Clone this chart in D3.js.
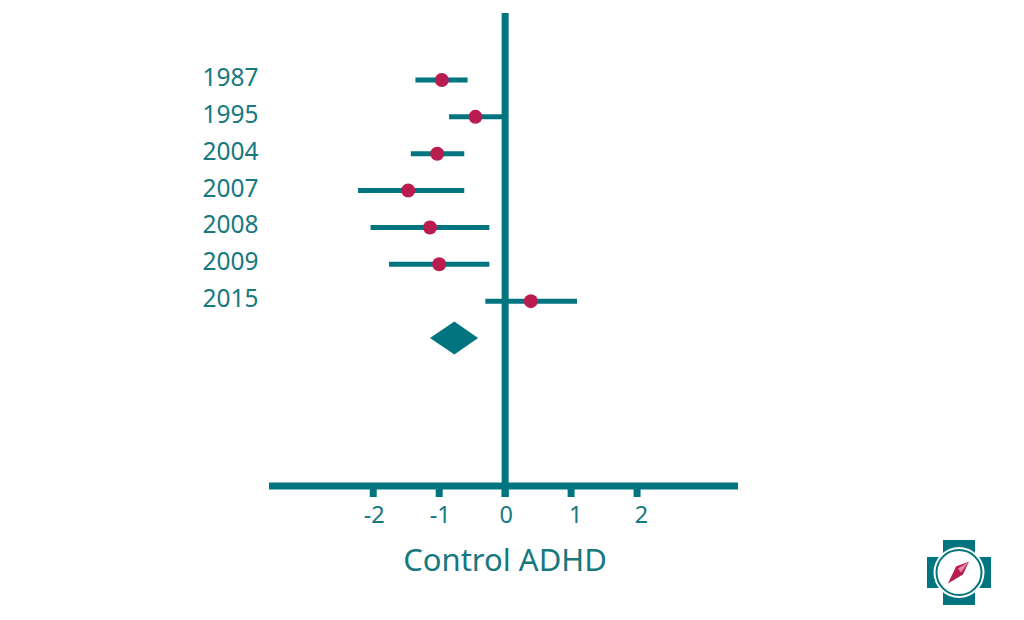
<!DOCTYPE html>
<html>
<head>
<meta charset="utf-8">
<script src="https://cdn.jsdelivr.net/npm/d3@7"></script>
<style>
  html, body { margin: 0; padding: 0; background: #fff; }
  text { font-family: "Noto Sans", "Open Sans", sans-serif; fill: #17797f; }
</style>
</head>
<body>
<div id="chart"></div>
<script>
const years = ['1987', '1995', '2004', '2007', '2008', '2009', '2015'];
const lower = [-1.36, -0.85, -1.43, -2.23, -2.04, -1.76, -0.30];
const upper = [-0.57, 0, -0.62, -0.62, -0.24, -0.24, 1.09];
const effect = [-0.96, -0.45, -1.03, -1.47, -1.14, -1.00, 0.39];
const pooledRow = 'pooled';
const pooled = [-1.14, -0.77, -0.41];
const xTicks = [-2, -1, 0, 1, 2];
const xLabel = 'Control ADHD';

const teal = '#007580';
const red = '#b91c4e';

const width = 1024;
const height = 620;

const svg = d3.select('#chart')
  .append('svg')
  .attr('width', width)
  .attr('height', height);

const x = d3.scaleLinear().domain([-3.58, 3.53]).range([269, 738]);
const y = d3.scalePoint().domain([...years, pooledRow]).range([80, 338]);
const axisY = 486;

// x axis
const xAxis = svg.append('g')
  .attr('transform', `translate(0, ${axisY})`)
  .call(d3.axisBottom(x).tickValues(xTicks).tickFormat(d => String(d)).tickSize(11).tickSizeOuter(0).tickPadding(9).offset(0));

xAxis.select('.domain').attr('stroke', teal).attr('stroke-width', 7);
xAxis.selectAll('.tick line').attr('stroke', teal).attr('stroke-width', 7);
xAxis.selectAll('.tick text')
  .attr('font-size', 23.5)
  .attr('font-family', null)
  .attr('dx', d => d > 0 ? 4.5 : 1)
  .style('fill', '#17797f');

// zero line
svg.append('line')
  .attr('x1', x(0)).attr('x2', x(0))
  .attr('y1', 13).attr('y2', axisY + 11)
  .attr('stroke', teal)
  .attr('stroke-width', 7);

// study rows
const rows = years.map((year, i) => ({ year, lo: lower[i], hi: upper[i], es: effect[i] }));

svg.selectAll('.ci')
  .data(rows)
  .enter()
  .append('line')
  .attr('class', 'ci')
  .attr('x1', d => x(d.lo))
  .attr('x2', d => x(d.hi))
  .attr('y1', d => y(d.year))
  .attr('y2', d => y(d.year))
  .attr('stroke', teal)
  .attr('stroke-width', 5);

svg.selectAll('.point')
  .data(rows)
  .enter()
  .append('circle')
  .attr('class', 'point')
  .attr('cx', d => x(d.es))
  .attr('cy', d => y(d.year))
  .attr('r', 7)
  .attr('fill', red);

svg.selectAll('.year')
  .data(rows)
  .enter()
  .append('text')
  .attr('class', 'year')
  .attr('x', 258.5)
  .attr('y', d => y(d.year) + 6)
  .attr('text-anchor', 'end')
  .attr('font-size', 24.5)
  .text(d => d.year);

// pooled diamond
const halfHeight = 16.5;
svg.append('path')
  .attr('fill', teal)
  .attr('d', `M${x(pooled[0])},${y(pooledRow)}L${x(pooled[1])},${y(pooledRow) - halfHeight}`
    + `L${x(pooled[2])},${y(pooledRow)}L${x(pooled[1])},${y(pooledRow) + halfHeight}Z`);

svg.append('text')
  .attr('x', 505)
  .attr('y', 571)
  .attr('text-anchor', 'middle')
  .attr('font-size', 31)
  .text(xLabel);

// logo
const logo = svg.append('g').attr('transform', 'translate(959, 572.5)');
logo.append('rect').attr('x', -16).attr('y', -32.5).attr('width', 32).attr('height', 65).attr('fill', teal);
logo.append('rect').attr('x', -32).attr('y', -15.5).attr('width', 64).attr('height', 31).attr('fill', teal);
logo.append('circle').attr('r', 25.5).attr('fill', '#fff');
logo.append('circle').attr('r', 22.5).attr('fill', '#fff').attr('stroke', teal).attr('stroke-width', 2);
logo.append('path').attr('d', 'M10,-11L-3,-6L-11,11L4,2Z').attr('fill', red);
logo.append('path').attr('d', 'M10,-11L-1,-4L2,0Z').attr('fill', '#e58aa6');
</script>
</body>
</html>
